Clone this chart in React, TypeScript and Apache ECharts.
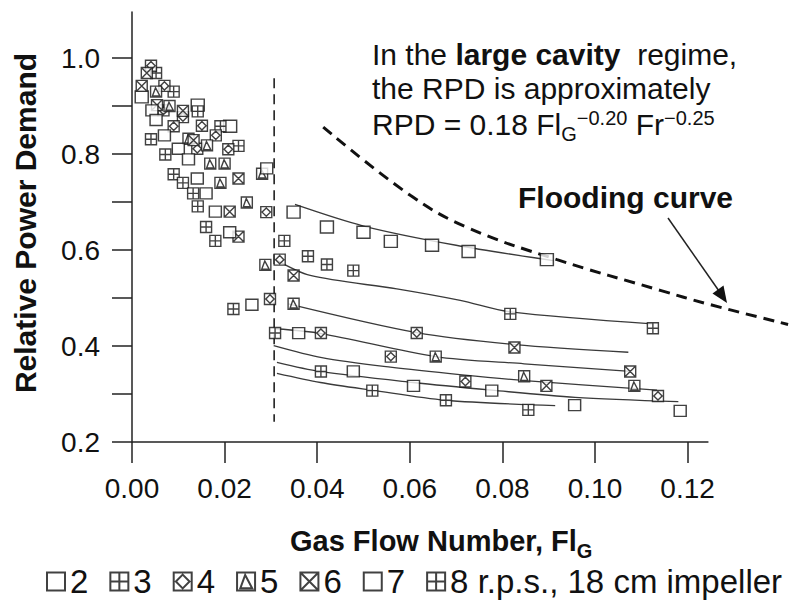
import React, { useEffect, useRef } from "react";
import * as echarts from "echarts";

const FONT = '"Liberation Sans", Arial, Helvetica, sans-serif';

// Tick values
const xTicks = [0, 0.02, 0.04, 0.06, 0.08, 0.1, 0.12];
const yTicks = [0.2, 0.3, 0.4, 0.5, 0.6, 0.7, 0.8, 0.9, 1.0];
const yLabels = [0.2, 0.4, 0.6, 0.8, 1.0];
const xAxisEnd = 0.1245;

// Legend names
const names = ["2", "3", "4", "5", "6", "7", "8 r.p.s., 18 cm impeller"];

// Scatter data per impeller speed [FlG, RPD]
const s2 = [[0.0349,0.679],[0.0421,0.648],[0.0500,0.637],[0.0559,0.618],[0.0648,0.610],[0.0727,0.597],[0.0896,0.580],[0.0021,0.919],[0.0142,0.902],[0.0212,0.858]];
const s3 = [[0.0052,0.969],[0.0090,0.930],[0.0142,0.889],[0.0191,0.858],[0.0230,0.817],[0.0329,0.619],[0.0380,0.587],[0.0421,0.570],[0.0478,0.557],[0.0817,0.467],[0.1125,0.437]];
const s4 = [[0.0041,0.984],[0.0070,0.942],[0.0068,0.891],[0.0110,0.877],[0.0090,0.858],[0.0141,0.811],[0.0151,0.859],[0.0181,0.839],[0.0208,0.810],[0.0290,0.679],[0.0319,0.580],[0.0298,0.498],[0.0408,0.427],[0.0615,0.427],[0.0559,0.378],[0.0720,0.326],[0.1136,0.296]];
const s5 = [[0.0052,0.930],[0.0081,0.900],[0.0122,0.832],[0.0162,0.818],[0.0169,0.780],[0.0200,0.780],[0.0191,0.740],[0.0248,0.699],[0.0281,0.759],[0.0288,0.569],[0.0349,0.488],[0.0656,0.378],[0.0847,0.337],[0.1085,0.317]];
const s6 = [[0.0032,0.969],[0.0021,0.942],[0.0054,0.902],[0.0110,0.890],[0.0133,0.829],[0.0230,0.749],[0.0211,0.680],[0.0230,0.628],[0.0349,0.547],[0.0826,0.397],[0.1076,0.347],[0.0895,0.317]];
const s7 = [[0.0043,0.891],[0.0052,0.871],[0.0070,0.839],[0.0100,0.811],[0.0122,0.789],[0.0141,0.749],[0.0160,0.718],[0.0180,0.680],[0.0291,0.770],[0.0211,0.637],[0.0259,0.486],[0.0360,0.427],[0.0478,0.347],[0.0608,0.317],[0.0777,0.307],[0.0956,0.277],[0.1184,0.265]];
const s8 = [[0.0041,0.831],[0.0072,0.799],[0.0090,0.758],[0.0110,0.740],[0.0132,0.718],[0.0142,0.691],[0.0160,0.648],[0.0180,0.619],[0.0219,0.477],[0.0309,0.427],[0.0408,0.347],[0.0519,0.307],[0.0678,0.287],[0.0856,0.267]];

// Fitted large-cavity lines
const fit1 = [[0.0352,0.695],[0.050,0.650],[0.070,0.610],[0.091,0.578]];
const fit2 = [[0.031,0.580],[0.0385,0.547],[0.0572,0.519],[0.0709,0.495],[0.0817,0.471],[0.1124,0.446]];
const fit3 = [[0.0338,0.488],[0.0615,0.428],[0.0828,0.403],[0.1072,0.387]];
const fit4 = [[0.031,0.436],[0.0409,0.426],[0.0655,0.378],[0.0847,0.363],[0.1076,0.347]];
const fit5 = [[0.0306,0.401],[0.041,0.376],[0.0558,0.356],[0.0713,0.340],[0.0849,0.328],[0.1134,0.308]];
const fit6 = [[0.0313,0.366],[0.0406,0.347],[0.0607,0.324],[0.0777,0.308],[0.0957,0.293],[0.118,0.284]];
const fit7 = [[0.0313,0.343],[0.0407,0.324],[0.0518,0.308],[0.0676,0.287],[0.0914,0.276]];

// Flooding curve and regime boundary
const flooding = [[0.0413,0.856],[0.0601,0.714],[0.0724,0.647],[0.0918,0.580],[0.1141,0.516],[0.1242,0.488],[0.1417,0.445]];
const boundary = [[0.0307,0.958],[0.0307,0.242]];
const xAxisLine = [[0, 0.2],[xAxisEnd, 0.2]];

const SQ = "path://M0,0H10V10H0Z";
const GRIDSYM = "path://M0,0H10V10H0Z M5,0V10 M0,5H10";
const DIAM = "path://M0,0H10V10H0Z M5,1.2L8.8,5L5,8.8L1.2,5Z";
const TRI = "path://M0,0H10V10H0Z M1.8,8.8L4.5,1.4L8.4,8.8Z";
const CROSS = "path://M0,0H10V10H0Z M0,0L10,10 M10,0L0,10";

const scatterStyle = { color: "#ffffff", borderColor: "#111111", borderWidth: 1.4 };

function scatter(name: string, data: number[][], symbol: string, size: number | number[]) {
  return {
    type: "scatter", name, data, symbol, symbolSize: size,
    itemStyle: scatterStyle, z: 5, silent: true,
  };
}

function fitLine(data: number[][]) {
  return {
    type: "line", data, smooth: 0.3, symbol: "none", silent: true, z: 3,
    lineStyle: { color: "#3a3a3a", width: 1.3 },
  };
}

export default function App() {
  const ref = useRef<HTMLDivElement>(null);
  useEffect(() => {
    const chart = echarts.init(ref.current as HTMLDivElement, null, { renderer: "svg" });
    const option: any = {
      animation: false,
      backgroundColor: "#ffffff",
      textStyle: { fontFamily: FONT },
      grid: { left: 132, right: 8, top: 12, bottom: 159 },
      xAxis: {
        type: "value", min: 0, max: 0.14233,
        splitLine: { show: false },
        axisLine: { show: false },
        axisTick: { show: true, customValues: xTicks, length: 21, lineStyle: { color: "#222", width: 1.5 } },
        axisLabel: {
          customValues: xTicks, margin: 32, fontSize: 28, color: "#111", fontFamily: FONT,
          formatter: (v: number) => v.toFixed(2),
        },
      },
      yAxis: {
        type: "value", min: 0.2, max: 1.096,
        splitLine: { show: false },
        axisLine: { show: true, lineStyle: { color: "#222", width: 1.5 } },
        axisTick: { show: true, customValues: yTicks, length: 20, lineStyle: { color: "#222", width: 1.5 } },
        axisLabel: {
          customValues: yLabels, margin: 32, fontSize: 28, color: "#111", fontFamily: FONT,
          formatter: (v: number) => v.toFixed(1),
        },
      },
      legend: {
        data: names, left: 46, top: 565, padding: 0, itemWidth: 18, itemHeight: 18, itemGap: 21,
        selectedMode: false,
        textStyle: { fontSize: 33, color: "#111", fontFamily: FONT },
      },
      series: [
        {
          type: "line", data: xAxisLine, symbol: "none", silent: true, clip: false, z: 1,
          lineStyle: { color: "#222", width: 1.5 },
        },
        fitLine(fit1), fitLine(fit2), fitLine(fit3), fitLine(fit4), fitLine(fit5), fitLine(fit6), fitLine(fit7),
        {
          type: "line", data: boundary, symbol: "none", silent: true, z: 2,
          lineStyle: { color: "#111", width: 1.5, type: [10, 6] },
        },
        {
          type: "line", data: flooding, smooth: 0.4, symbol: "none", silent: true, z: 2,
          lineStyle: { color: "#111", width: 3, type: [11, 7] },
        },
        scatter(names[0], s2, SQ, [13, 12]),
        scatter(names[1], s3, GRIDSYM, 11),
        scatter(names[2], s4, DIAM, 11),
        scatter(names[3], s5, TRI, 11),
        scatter(names[4], s6, CROSS, 11),
        scatter(names[5], s7, SQ, [12, 11]),
        scatter(names[6], s8, GRIDSYM, 11),
      ],
      graphic: [
        {
          type: "text", x: 25, y: 223, rotation: Math.PI / 2,
          style: { text: "Relative Power Demand", fontSize: 30, fontWeight: "bold", fontFamily: FONT, fill: "#111", align: "center", verticalAlign: "middle" },
        },
        {
          type: "text", x: 290, y: 541,
          style: {
            text: "{t|Gas Flow Number, Fl}{s|G}", align: "left", verticalAlign: "middle",
            rich: {
              t: { fontSize: 29, fontWeight: "bold", fontFamily: FONT, fill: "#111", lineHeight: 40 },
              s: { fontSize: 20, fontWeight: "bold", fontFamily: FONT, fill: "#111", lineHeight: 22, verticalAlign: "bottom" },
            },
          },
        },
        {
          type: "text", x: 372, y: 54,
          style: {
            text: "{n|In the }{b|large cavity}{n|  regime,}", align: "left", verticalAlign: "middle",
            rich: {
              n: { fontSize: 30, fontFamily: FONT, fill: "#111" },
              b: { fontSize: 30, fontWeight: "bold", fontFamily: FONT, fill: "#111" },
            },
          },
        },
        {
          type: "text", x: 372, y: 88,
          style: { text: "the RPD is approximately", fontSize: 30, fontFamily: FONT, fill: "#111", align: "left", verticalAlign: "middle" },
        },
        {
          type: "text", x: 372, y: 124,
          style: {
            text: "{a|RPD = 0.18 Fl}{sub|G}{sup|\u22120.20}{a| Fr}{sup|\u22120.25}", align: "left", verticalAlign: "middle",
            rich: {
              a: { fontSize: 30, fontFamily: FONT, fill: "#111", lineHeight: 44 },
              sub: { fontSize: 20, fontFamily: FONT, fill: "#111", padding: [20, 0, 0, 0], verticalAlign: "middle" },
              sup: { fontSize: 20, fontFamily: FONT, fill: "#111", padding: [0, 0, 12, 0], verticalAlign: "middle" },
            },
          },
        },
        {
          type: "text", x: 518, y: 197,
          style: { text: "Flooding curve", fontSize: 30, fontWeight: "bold", fontFamily: FONT, fill: "#111", align: "left", verticalAlign: "middle" },
        },
        {
          type: "line", shape: { x1: 668, y1: 218, x2: 719, y2: 291 },
          style: { stroke: "#222", lineWidth: 1.5 },
        },
        {
          type: "polygon", shape: { points: [[727, 303], [712.5, 293.5], [723.5, 285.5]] },
          style: { fill: "#111" },
        },
      ],
    };
    chart.setOption(option);
    return () => chart.dispose();
  }, []);
  return (
    <div
      ref={ref}
      style={{ position: "fixed", left: 0, top: 0, width: 799, height: 601, background: "#fff" }}
    />
  );
}
